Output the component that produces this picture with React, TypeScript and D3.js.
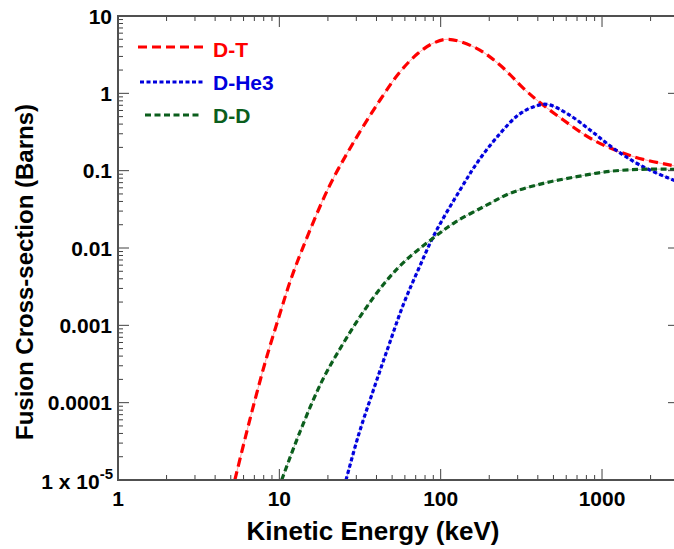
import React from "react";
import * as d3 from "d3";

// Kinetic energy (keV) and cross-section (barns)
const dtEnergy = [5.3, 6.28, 7.24, 8.36, 10.1, 11.65, 13.8, 20.1, 27.8, 42.1, 56, 72.4, 89.7, 111.6, 167, 233, 326, 394, 576, 885, 1566, 2770, 3000];
const dtSigma = [1e-5, 4.2e-5, 1.32e-4, 3.93e-4, 1.43e-3, 3.66e-3, 9.4e-3, 0.059, 0.204, 0.82, 1.9, 3.29, 4.44, 5.0, 3.82, 2.32, 1.16, 0.82, 0.452, 0.249, 0.152, 0.116, 0.113];

const dhe3Energy = [25.9, 30.9, 38.2, 47.2, 58.7, 72.7, 92.2, 131.8, 171.1, 233.2, 302.9, 373.6, 454.3, 604.2, 842.7, 1175, 1720, 2767, 3000];
const dhe3Sigma = [1e-5, 3.76e-5, 1.44e-4, 5.17e-4, 1.86e-3, 5.27e-3, 0.0155, 0.0562, 0.133, 0.302, 0.525, 0.666, 0.721, 0.552, 0.336, 0.195, 0.118, 0.0757, 0.072];

const ddEnergy = [10.34, 13.43, 18.31, 24.9, 33.2, 45.2, 60.1, 92.2, 122.7, 188.3, 269, 433, 698, 1070, 1722, 2770, 3000];
const ddSigma = [1e-5, 4.21e-5, 1.87e-4, 5.85e-4, 1.5e-3, 3.58e-3, 6.79e-3, 0.014, 0.0215, 0.0349, 0.0509, 0.0686, 0.0836, 0.097, 0.104, 0.104, 0.103];

const seriesNames = ["D-T", "D-He3", "D-D"];
const seriesColors = ["#ff0000", "#0000dd", "#0b5e1c"];
const seriesDash = ["9,5", "4,2.5", "6,3.5"];

const xMajorTicks = [1, 10, 100, 1000];
const xTickLabels = ["1", "10", "100", "1000"];
const yMajorTicks = [1e-5, 1e-4, 1e-3, 1e-2, 1e-1, 1, 10];
const yTickLabels = ["1 x 10", "0.0001", "0.001", "0.01", "0.1", "1", "10"];

const xTitle = "Kinetic Energy (keV)";
const yTitle = "Fusion Cross-section (Barns)";

const W = 674;
const H = 549;
const L = 118, R = 679, T = 16, B = 480;

const FONT = "'Liberation Sans', Arial, Helvetica, sans-serif";

export default function App() {
  const x = d3.scaleLog().domain([1, 3000]).range([L, R]);
  const y = d3.scaleLog().domain([1e-5, 10]).range([B, T]);

  const series = [
    { e: dtEnergy, s: dtSigma },
    { e: dhe3Energy, s: dhe3Sigma },
    { e: ddEnergy, s: ddSigma },
  ];

  const line = d3
    .line<[number, number]>()
    .x((d) => x(d[0]))
    .y((d) => y(d[1]))
    .curve(d3.curveCatmullRom.alpha(0.5));

  const xMinor: number[] = [];
  for (let p = 0; p <= 3; p++)
    for (let k = 2; k <= 9; k++) {
      const v = k * Math.pow(10, p);
      if (v <= 3000) xMinor.push(v);
    }
  const yMinor: number[] = [];
  for (let p = -5; p <= 0; p++)
    for (let k = 2; k <= 9; k++) yMinor.push(k * Math.pow(10, p));

  const axisColor = "#505050";
  const tickColor = "#404040";
  const majLen = 11;
  const minLen = 5;

  const legendY = [47, 82, 115];
  const legendX1 = [138, 140, 145];
  const legendX2 = [207, 205, 200];
  const legendTextY = [57, 90, 123];

  return (
    <svg
      width={W}
      height={H}
      style={{ position: "absolute", left: 0, top: 0, background: "#fff" }}
      fontFamily={FONT}
    >
      <defs>
        <clipPath id="plotClip">
          <rect x={L} y={T} width={R - L} height={B - T} />
        </clipPath>
      </defs>
      <rect x={0} y={0} width={W} height={H} fill="#fff" />

      {/* curves */}
      <g clipPath="url(#plotClip)">
        {series.map((sr, i) => {
          const pts: [number, number][] = sr.e.map((e, j) => [e, sr.s[j]]);
          const d = line(pts) || "";
          return (
            <g key={i}>
              <path d={d} fill="none" stroke={seriesColors[i]} strokeWidth={0.8} strokeOpacity={0.45} />
              <path
                d={d}
                fill="none"
                stroke={seriesColors[i]}
                strokeWidth={3.2}
                strokeDasharray={seriesDash[i]}
              />
            </g>
          );
        })}
      </g>

      {/* ticks */}
      <g stroke={tickColor} strokeWidth={1}>
        {xMajorTicks.map((v) => (
          <g key={"xM" + v}>
            <line x1={x(v)} x2={x(v)} y1={B} y2={B - majLen} />
            <line x1={x(v)} x2={x(v)} y1={T} y2={T + majLen} />
          </g>
        ))}
        {xMinor.map((v) => (
          <g key={"xm" + v}>
            <line x1={x(v)} x2={x(v)} y1={B} y2={B - minLen} />
            <line x1={x(v)} x2={x(v)} y1={T} y2={T + minLen} />
          </g>
        ))}
        {yMajorTicks.map((v) => (
          <g key={"yM" + v}>
            <line x1={L} x2={L + majLen} y1={y(v)} y2={y(v)} />
            <line x1={R} x2={R - majLen} y1={y(v)} y2={y(v)} />
          </g>
        ))}
        {yMinor.map((v) => (
          <g key={"ym" + v}>
            <line x1={L} x2={L + minLen} y1={y(v)} y2={y(v)} />
            <line x1={R} x2={R - minLen} y1={y(v)} y2={y(v)} />
          </g>
        ))}
      </g>

      {/* frame */}
      <rect x={L} y={T} width={R - L} height={B - T} fill="none" stroke={axisColor} strokeWidth={2} />

      {/* x tick labels */}
      {xMajorTicks.map((v, i) => (
        <text key={"xl" + v} x={x(v)} y={506} textAnchor="middle" fontSize={21} fontWeight="bold" fill="#000">
          {xTickLabels[i]}
        </text>
      ))}

      {/* y tick labels */}
      {yMajorTicks.map((v, i) =>
        i === 0 ? (
          <text key={"yl" + v} x={113} y={y(v) + 9} textAnchor="end" fontSize={21} fontWeight="bold" fill="#000">
            {yTickLabels[i]}
            <tspan dy={-10} fontSize={15}>-5</tspan>
          </text>
        ) : (
          <text key={"yl" + v} x={112} y={y(v) + 7.5} textAnchor="end" fontSize={21} fontWeight="bold" fill="#000">
            {yTickLabels[i]}
          </text>
        )
      )}

      {/* axis titles */}
      <text x={373} y={540} textAnchor="middle" fontSize={26} fontWeight="bold" fill="#000">
        {xTitle}
      </text>
      <text
        transform={`translate(33,272) rotate(-90)`}
        textAnchor="middle"
        fontSize={24}
        fontWeight="bold"
        fill="#000"
      >
        {yTitle}
      </text>

      {/* legend */}
      {seriesNames.map((n, i) => (
        <g key={"lg" + n}>
          <line
            x1={legendX1[i]}
            x2={legendX2[i]}
            y1={legendY[i]}
            y2={legendY[i]}
            stroke={seriesColors[i]}
            strokeWidth={3.2}
            strokeDasharray={seriesDash[i]}
          />
          <text x={213} y={legendTextY[i]} fontSize={21} fontWeight="bold" fill={seriesColors[i]}>
            {n}
          </text>
        </g>
      ))}
    </svg>
  );
}
